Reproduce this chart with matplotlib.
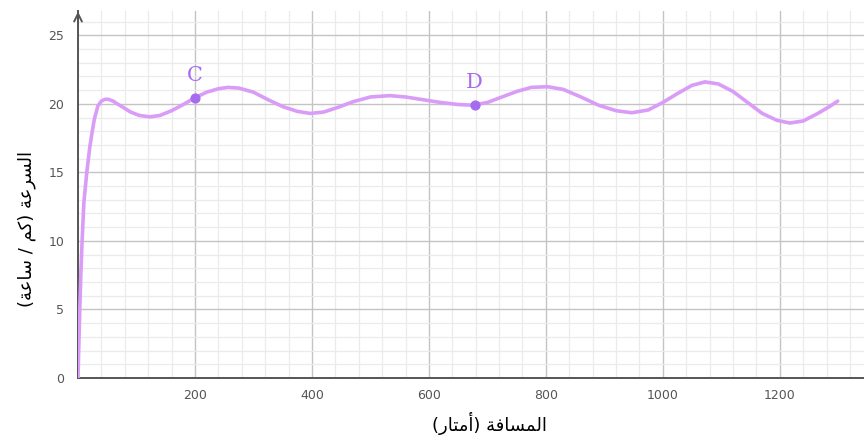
# Speed vs distance chart
import numpy as np
import matplotlib.pyplot as plt
from matplotlib.ticker import MultipleLocator

# distance (m) and speed (km/h)
distance = [0, 1, 3, 5, 7, 10, 15, 20, 24, 28, 34, 40, 46, 52, 60, 67, 75, 90, 105, 123,
            140, 160, 180, 200, 220, 240, 256, 275, 300, 325, 350, 375, 397, 420, 445,
            470, 500, 533, 560, 590, 620, 650, 675, 700, 725, 750, 775, 803, 830, 860,
            890, 920, 947, 975, 1000, 1025, 1050, 1072, 1095, 1120, 1145, 1170, 1195,
            1217, 1240, 1265, 1285, 1299]
speed = [0, 1.8, 5, 7.8, 10, 12.8, 15, 16.8, 17.9, 18.9, 19.85, 20.2, 20.33, 20.33, 20.2,
         20.0, 19.8, 19.4, 19.15, 19.05, 19.15, 19.5, 19.95, 20.45, 20.85, 21.1, 21.2,
         21.15, 20.85, 20.3, 19.8, 19.45, 19.3, 19.4, 19.75, 20.15, 20.5, 20.6, 20.5,
         20.3, 20.1, 19.95, 19.9, 20.1, 20.5, 20.9, 21.2, 21.25, 21.05, 20.5, 19.9, 19.5,
         19.35, 19.55, 20.1, 20.75, 21.35, 21.6, 21.45, 20.9, 20.1, 19.3, 18.8, 18.6,
         18.75, 19.3, 19.8, 20.2]

# marked points
point_names = ['C', 'D']
point_x = [200, 678]
point_y = [20.45, 19.95]

x_ticks = [200, 400, 600, 800, 1000, 1200]
y_ticks = [0, 5, 10, 15, 20, 25]

# Arabic labels, shaped by hand (presentation forms, visual order)
y_label = ('(' + '\uFE94\uFECB\uFE8E\uFEB3' + ' / ' + '\uFEE2\uFEDB' + ') '
           + '\uFE94\uFECB\uFEAE\uFEB4\uFEDF\uFE8D')
x_label = ('(' + '\uFEAD\uFE8E\uFE98\uFEE3\uFE83' + ') '
           + '\uFE94\uFED3\uFE8E\uFEB4\uFEE4\uFEDF\uFE8D')

fig = plt.figure(figsize=(8.64, 4.41), dpi=100)
ax = fig.add_axes([0.0903, 0.1429, 0.9097, 0.833])

ax.set_xlim(0, 1344)
ax.set_ylim(0, 26.8)

ax.xaxis.set_minor_locator(MultipleLocator(40))
ax.yaxis.set_minor_locator(MultipleLocator(1))
ax.set_xticks(x_ticks)
ax.set_yticks(y_ticks)
ax.grid(which='major', color='#c4c4c4', lw=1.0)
ax.grid(which='minor', color='#ebebeb', lw=0.9)
ax.set_axisbelow(True)
ax.tick_params(which='both', length=0, labelsize=9, labelcolor='#555555')
ax.tick_params(axis='y', pad=10)
ax.tick_params(axis='x', pad=8)

for s in ['top', 'right']:
    ax.spines[s].set_visible(False)
for s in ['left', 'bottom']:
    ax.spines[s].set_color('#555555')
    ax.spines[s].set_linewidth(1.4)

# arrow at the top of the y axis
ax.annotate('', xy=(0, 1.005), xytext=(0, 0.95), xycoords='axes fraction',
            arrowprops=dict(arrowstyle='->', color='#555555', lw=1.4,
                            mutation_scale=14), annotation_clip=False)

ax.plot(distance, speed, color='#d99cf7', lw=2.6, solid_capstyle='round',
        solid_joinstyle='round', zorder=3)

ax.scatter(point_x, point_y, s=40, color='#a56cf0', zorder=4)
for name, px, py in zip(point_names, point_x, point_y):
    ax.text(px, py + 0.9, name, color='#a56cf0', fontsize=15, family='DejaVu Serif',
            ha='center', va='bottom', zorder=4)

fig.text(0.031, 0.48, y_label, rotation=90, ha='center', va='center',
         fontsize=13, family=['DejaVu Sans'])
fig.text(0.567, 0.04, x_label, ha='center', va='center',
         fontsize=13, family=['DejaVu Sans'])

fig.savefig('out.png', dpi=100)
